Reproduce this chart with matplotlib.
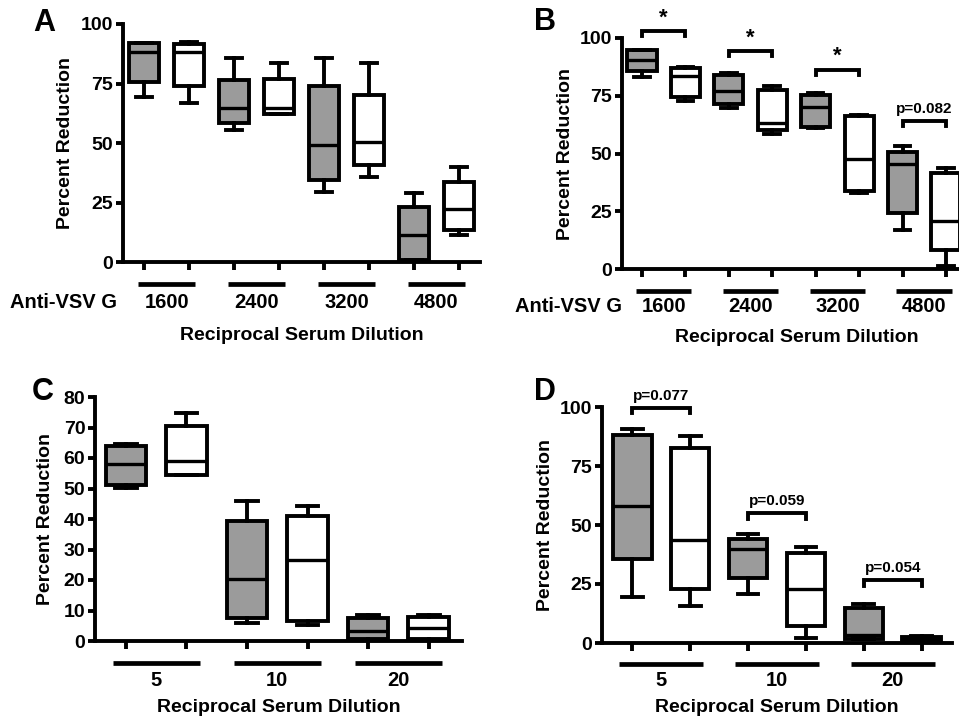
"""
Percent reduction box plots, four panels (A-D).
"""

import matplotlib
matplotlib.use("Agg")
import matplotlib.pyplot as plt
from matplotlib.transforms import blended_transform_factory, ScaledTranslation


# -------------------------------------------------
# Data
# -------------------------------------------------

# Panel A: anti-VSV G, pairs of (gray, white) boxes per dilution
a_groups = ["1600", "2400", "3200", "4800"]
a_hi = [92, 92.6, 85.6, 83.8, 85.6, 83.8, 29.2, 40.1]
a_q3 = [91.9, 91.5, 76.5, 76.9, 74, 70.2, 23.1, 33.8]
a_med = [88.4, 88.4, 64.6, 64.6, 49.2, 50.3, 11.2, 22.2]
a_q1 = [75.5, 74, 58.6, 62.2, 34.5, 40.8, 1, 13.3]
a_lo = [69.2, 67, 55.5, 62, 29.4, 35.7, 0.8, 11.5]

# Panel B
b_groups = ["1600", "2400", "3200", "4800"]
b_hi = [95, 87.3, 84.8, 79.1, 76, 66.5, 53.1, 43.7]
b_q3 = [94.7, 87.1, 84, 77.6, 75.3, 66.3, 50.6, 41.6]
b_med = [90.3, 83.7, 76.9, 63.2, 70.1, 47.6, 45.5, 20.6]
b_q1 = [85.6, 74.5, 71.6, 60.3, 61.3, 33.6, 24.2, 8.4]
b_lo = [83, 72.6, 69.7, 58.6, 61, 32.9, 17, 1.2]
b_marks = ["*", "*", "*", "p=0.082"]
b_mark_y = [103, 94.2, 86.3, 63.9]

# Panel C
c_groups = ["5", "10", "20"]
c_hi = [64.6, 74.9, 46, 44.1, 8.5, 8.5]
c_q3 = [64, 70.4, 39.5, 41, 7.4, 7.8]
c_med = [58, 58.9, 20.2, 26.6, 3.3, 4.2]
c_q1 = [51, 54.5, 7.7, 6.7, 0.5, 0.5]
c_lo = [50.2, 54.3, 5.8, 5.3, 0.3, 0.3]

# Panel D
d_groups = ["5", "10", "20"]
d_hi = [90.8, 87.6, 46, 40.7, 16.7, 3.1]
d_q3 = [88, 82.6, 44.2, 38.1, 15, 2.5]
d_med = [57.9, 43.8, 40, 23, 3.2, 2.1]
d_q1 = [35.5, 23, 27.7, 7.1, 1.7, 1.4]
d_lo = [19.5, 15.5, 20.9, 2.1, 1.5, 1.0]
d_marks = ["p=0.077", "p=0.059", "p=0.054"]
d_mark_y = [99.7, 55, 26.5]


# -------------------------------------------------
# Style
# -------------------------------------------------

W, H, DPI = 959, 718, 100
GRAY = "#9b9b9b"
LW = 2.8

plt.rcParams["font.family"] = ["Liberation Sans", "DejaVu Sans"]
plt.rcParams["font.weight"] = "bold"


def px_rect(left, top, right, bottom):
    """Axes rectangle from pixel edges (origin top-left)."""
    return [left / W, 1 - bottom / H, (right - left) / W, (bottom - top) / H]


def below(ax, dy_px, xdata=True):
    """Transform: x in data (or axes) units, y = axis line minus dy pixels."""
    base = blended_transform_factory(ax.transData, ax.transAxes) if xdata else ax.transAxes
    return base + ScaledTranslation(0, -dy_px / DPI, ax.figure.dpi_scale_trans)


def draw_panel(ax, hi, q3, med, q1, lo, groups, xlim, ylim, yticks,
               bar_half, dy, anti_label=None, ylabelpad=10):
    """Paired gray/white box plots with group bars below the axis."""
    n = len(med)
    pos = list(range(1, n + 1))
    stats = [dict(med=med[i], q1=q1[i], q3=q3[i], whislo=lo[i], whishi=hi[i])
             for i in range(n)]
    bp = ax.bxp(stats, positions=pos, widths=0.67, capwidths=0.36,
                showfliers=False, patch_artist=True,
                boxprops=dict(linewidth=LW, edgecolor="black"),
                medianprops=dict(color="black", linewidth=LW - 0.4),
                whiskerprops=dict(color="black", linewidth=LW),
                capprops=dict(color="black", linewidth=LW))
    for i, box in enumerate(bp["boxes"]):
        box.set_facecolor(GRAY if i % 2 == 0 else "white")
    for art in bp["caps"] + bp["whiskers"] + bp["boxes"] + bp["medians"]:
        art.set_clip_on(False)

    ax.set_xlim(*xlim)
    ax.set_ylim(*ylim)
    ax.set_yticks(yticks)
    ax.set_xticks(pos)
    ax.set_xticklabels([""] * n)
    ax.tick_params(axis="both", width=LW, length=5, labelsize=14, pad=2)
    ax.tick_params(axis="x", length=6)
    for side in ("top", "right"):
        ax.spines[side].set_visible(False)
    for side in ("left", "bottom"):
        ax.spines[side].set_linewidth(LW)
    ax.set_ylabel("Percent Reduction", fontsize=14, fontweight="bold",
                  labelpad=ylabelpad)

    bar_dy, lab_dy, xlab_dy = dy
    for g, name in enumerate(groups):
        c = 2 * g + 1.5
        ax.plot([c - bar_half, c + bar_half], [0, 0], color="black",
                linewidth=LW + 0.6, solid_capstyle="butt",
                transform=below(ax, bar_dy), clip_on=False)
        ax.text(c, 0, name, ha="center", va="center", fontsize=14.5,
                transform=below(ax, lab_dy), fontweight="bold")
    if anti_label is not None:
        ax.text(anti_label, 0, "Anti-VSV G", ha="center", va="center",
                fontsize=14.5, fontweight="bold", transform=below(ax, lab_dy))
    ax.text(0.5, 0, "Reciprocal Serum Dilution", ha="center", va="center",
            fontsize=14, fontweight="bold", transform=below(ax, xlab_dy, False))


def draw_brackets(ax, marks, ys, drop, fs_list):
    """Significance brackets between each pair of boxes."""
    for g, (m, y) in enumerate(zip(marks, ys)):
        x1, x2 = 2 * g + 1, 2 * g + 2
        ax.plot([x1, x1, x2, x2], [y - drop, y, y, y - drop], color="black",
                linewidth=LW, clip_on=False, solid_joinstyle="miter")
        fs = fs_list[0] if m == "*" else fs_list[1]
        off = 1.2 if m == "*" else 2.2
        ax.text((x1 + x2) / 2, y + off, m, ha="center", va="bottom",
                fontsize=fs, fontweight="bold", clip_on=False)


# -------------------------------------------------
# Figure
# -------------------------------------------------

def main():
    fig = plt.figure(figsize=(W / DPI, H / DPI), dpi=DPI)

    ax_a = fig.add_axes(px_rect(123, 24, 480, 262))
    draw_panel(ax_a, a_hi, a_q3, a_med, a_q1, a_lo, a_groups,
               (0.53, 8.47), (0, 100), [0, 25, 50, 75, 100],
               0.64, (22, 40, 73), anti_label=-0.8, ylabelpad=5)

    ax_b = fig.add_axes(px_rect(622, 38, 972, 269))
    draw_panel(ax_b, b_hi, b_q3, b_med, b_q1, b_lo, b_groups,
               (0.54, 8.6), (0, 100), [0, 25, 50, 75, 100],
               0.64, (22, 38, 68), anti_label=-0.7, ylabelpad=4.5)
    draw_brackets(ax_b, b_marks, b_mark_y, 2.2, (16, 11))

    ax_c = fig.add_axes(px_rect(95, 397, 462, 641))
    draw_panel(ax_c, c_hi, c_q3, c_med, c_q1, c_lo, c_groups,
               (0.49, 6.55), (0, 80), list(range(0, 81, 10)),
               0.72, (22, 39, 67), ylabelpad=7)

    ax_d = fig.add_axes(px_rect(602, 407, 952, 643))
    draw_panel(ax_d, d_hi, d_q3, d_med, d_q1, d_lo, d_groups,
               (0.48, 6.52), (0, 100), [0, 25, 50, 75, 100],
               0.72, (21, 37, 65), ylabelpad=4.5)
    draw_brackets(ax_d, d_marks, d_mark_y, 2.3, (16, 11))

    # panel letters
    for letter, (x, y) in zip("ABCD", [(44, 23), (545, 22), (43, 392), (545, 392)]):
        fig.text(x / W, 1 - y / H, letter, ha="center", va="center",
                 fontsize=22, fontweight="bold")

    fig.savefig("out.png", dpi=DPI)


if __name__ == "__main__":
    main()
